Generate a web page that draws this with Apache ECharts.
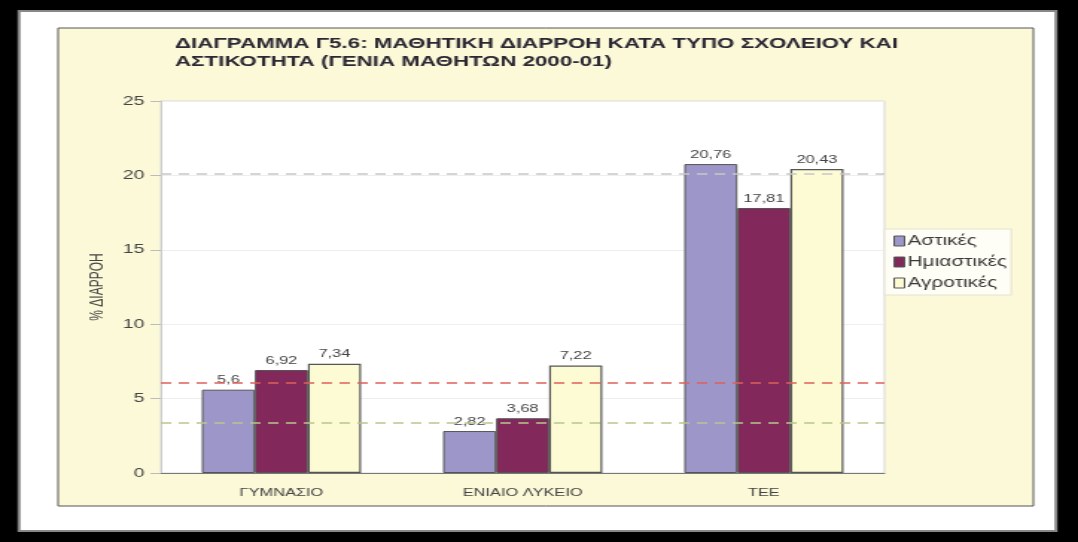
<!DOCTYPE html>
<html>
<head>
<meta charset="utf-8">
<script src="https://cdn.jsdelivr.net/npm/echarts@6/dist/echarts.min.js"></script>
<style>
  html, body { margin: 0; padding: 0; background: #000; overflow: hidden; }
  /* the original picture is stretched horizontally, so draw narrow and stretch */
  #chart { width: 724px; height: 542px; transform: scaleX(1.489); transform-origin: 0 0; }
</style>
</head>
<body>
<div id="chart"></div>
<script>
// κατηγορίες σχολείων
const categories = ['ΓΥΜΝΑΣΙΟ', 'ΕΝΙΑΙΟ ΛΥΚΕΙΟ', 'ΤΕΕ'];
// % διαρροή ανά αστικότητα
const astikes = [5.6, 2.82, 20.76];
const imiastikes = [6.92, 3.68, 17.81];
const agrotikes = [7.34, 7.22, 20.43];
const seriesNames = ['Αστικές', 'Ημιαστικές', 'Αγροτικές'];
// διακεκομμένες γραμμές αναφοράς
const refLines = [20.1, 6.07, 3.39];
const refColors = ['#c8c8c8', '#e0605a', '#b8c68e'];

const chart = echarts.init(document.getElementById('chart'));
const font = '"Liberation Sans", Arial, sans-serif';

const label = {
  show: true,
  position: 'top',
  distance: 4,
  fontSize: 11,
  color: '#444',
  fontFamily: font,
  formatter: p => String(p.value).replace('.', ',')
};

const option = {
  backgroundColor: '#000',
  animation: false,
  textStyle: { fontFamily: font },
  graphic: [
    { type: 'rect', z: -10, shape: { x: 12.8, y: 11, width: 696.4, height: 520 },
      style: { fill: '#fff', stroke: '#888', lineWidth: 2 } },
    { type: 'rect', z: -9, shape: { x: 39, y: 28, width: 655, height: 478 },
      style: { fill: '#fcf9d8', stroke: '#555', lineWidth: 1 } },
    { type: 'text', x: 117.5, y: 35,
      style: { text: 'ΔΙΑΓΡΑΜΜΑ Γ5.6: ΜΑΘΗΤΙΚΗ ΔΙΑΡΡΟΗ ΚΑΤΑ ΤΥΠΟ ΣΧΟΛΕΙΟΥ ΚΑΙ\nΑΣΤΙΚΟΤΗΤΑ (ΓΕΝΙΑ ΜΑΘΗΤΩΝ 2000-01)',
        font: 'bold 15px ' + font, fill: '#2b2733', lineHeight: 18 } }
  ],
  grid: {
    left: 108, right: 130, top: 101, bottom: 69,
    show: true, backgroundColor: '#fff', borderColor: '#d8d8d8', borderWidth: 1
  },
  legend: {
    orient: 'vertical',
    left: 594, top: 229,
    icon: 'rect',
    itemWidth: 7, itemHeight: 10, itemGap: 7,
    padding: [5, 3, 5, 6],
    backgroundColor: '#fffef6',
    borderColor: '#e4e2d0', borderWidth: 1,
    itemStyle: { borderColor: '#555', borderWidth: 1 },
    textStyle: { fontSize: 14, color: '#3a3a3a', fontFamily: font, padding: [0, 0, 0, -3] },
    data: seriesNames
  },
  xAxis: {
    type: 'category',
    data: categories,
    axisLine: { lineStyle: { color: '#777' } },
    axisTick: { show: false },
    axisLabel: { fontSize: 11, color: '#444', margin: 14 }
  },
  yAxis: {
    type: 'value',
    min: 0, max: 25, interval: 5,
    name: '% ΔΙΑΡΡΟΗ',
    nameLocation: 'middle',
    nameGap: 30,
    nameTextStyle: { fontSize: 12, color: '#444' },
    axisLine: { show: true, lineStyle: { color: '#ccc' } },
    axisTick: { show: true, length: 7, lineStyle: { color: '#bbb' } },
    axisLabel: { fontSize: 13, color: '#444', margin: 11 },
    splitLine: { lineStyle: { color: '#eee' } }
  },
  series: [
    {
      name: seriesNames[0], type: 'bar', data: astikes,
      barGap: '0%', barCategoryGap: '34%',
      itemStyle: { color: '#9d97c9', borderColor: '#555', borderWidth: 1 },
      label: label,
      markLine: {
        silent: true, symbol: 'none', label: { show: false },
        data: refLines.map((v, i) => ({
          yAxis: v, lineStyle: { color: refColors[i], type: [7, 5], width: 1.5 }
        }))
      }
    },
    {
      name: seriesNames[1], type: 'bar', data: imiastikes,
      itemStyle: { color: '#83285a', borderColor: '#555', borderWidth: 1 },
      label: label
    },
    {
      name: seriesNames[2], type: 'bar', data: agrotikes,
      itemStyle: { color: '#fdfbd3', borderColor: '#555', borderWidth: 1.2 },
      label: label
    }
  ]
};

chart.setOption(option);
</script>
</body>
</html>
